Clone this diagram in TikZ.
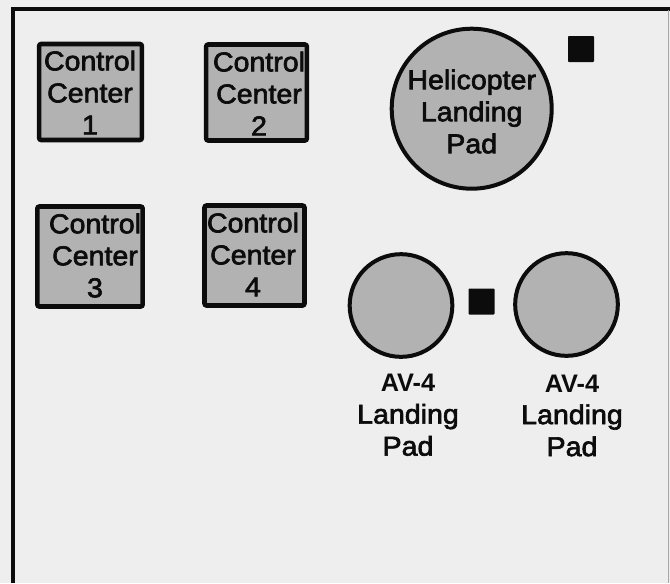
\documentclass[tikz,border=0pt]{standalone}
\usepackage{fontspec}
\setmainfont[FakeStretch=1.05,FakeBold=2.4]{Liberation Sans}
\newfontfamily\avfont[Ligatures=TeX]{Liberation Sans}
\definecolor{paper}{HTML}{EEEEEE}
\definecolor{padgrey}{HTML}{B2B2B2}
\definecolor{ink}{HTML}{0C0C0C}
\newcommand{\avtype}{{\avfont\bfseries\fontsize{19}{24}\selectfont AV-4}}
\tikzset{
  pad/.style={circle,draw=ink,fill=padgrey,line width=3pt,inner sep=0pt,minimum size=#1},
  ccbox/.style={rectangle,draw=ink,fill=padgrey,line width=3.4pt,rounded corners=1.5pt,inner sep=0pt},
  lbl/.style={align=center,text=ink,inner sep=0pt,font=\fontsize{20.4}{24}\selectfont},
  marker/.style={rectangle,fill=ink,rounded corners=0.7pt,inner sep=0pt,minimum width=19.5pt,minimum height=19.5pt},
  frame/.style={draw=ink,line width=3pt}
}
\begin{document}
\begin{tikzpicture}[x=0.75pt,y=-0.75pt]
\path[use as bounding box,fill=paper] (0,0) rectangle (670,583);
% frame
\coordinate (fb) at (12.5,583);
\coordinate (ftl) at (12.5,8.5);
\coordinate (ftr) at (670,8.5);
\coordinate (rt) at (668,10);
\coordinate (rb) at (668,583);
\draw[frame] (fb) -- (ftl) -- (ftr);
\draw[draw=gray!70,line width=0.6pt] (rt) -- (rb);
% control centres
\node[ccbox,minimum width=77pt,minimum height=72pt] (c1) at (90.5,92) {};
\node[ccbox,minimum width=75.5pt,minimum height=72pt] (c2) at (256.5,92.5) {};
\node[ccbox,minimum width=79pt,minimum height=75pt] (c3) at (90,256.5) {};
\node[ccbox,minimum width=75pt,minimum height=75pt] (c4) at (254.5,255.5) {};
\node[lbl] (t1) at (90,92.5) {Control\\Center\\1};
\node[lbl] (t2) at (259,93.5) {Control\\Center\\2};
\node[lbl] (t3) at (95,255.5) {Control\\Center\\3};
\node[lbl] (t4) at (253,254.5) {Control\\Center\\4};
% pads
\node[pad=120pt] (h) at (471.7,108.7) {};
\node[lbl] (ht) at (471.7,111.5) {Helicopter\\Landing\\Pad};
\node[pad=77pt] (a1) at (401,305.5) {};
\node[pad=77pt] (a2) at (566.5,304.5) {};
\node[lbl] (a1t) at (408,415) {\avtype\\Landing\\Pad};
\node[lbl] (a2t) at (572,415.5) {\avtype\\Landing\\Pad};
% markers
\node[marker] (m1) at (581,49) {};
\node[marker] (m2) at (481.5,301.5) {};
\end{tikzpicture}
\end{document}
